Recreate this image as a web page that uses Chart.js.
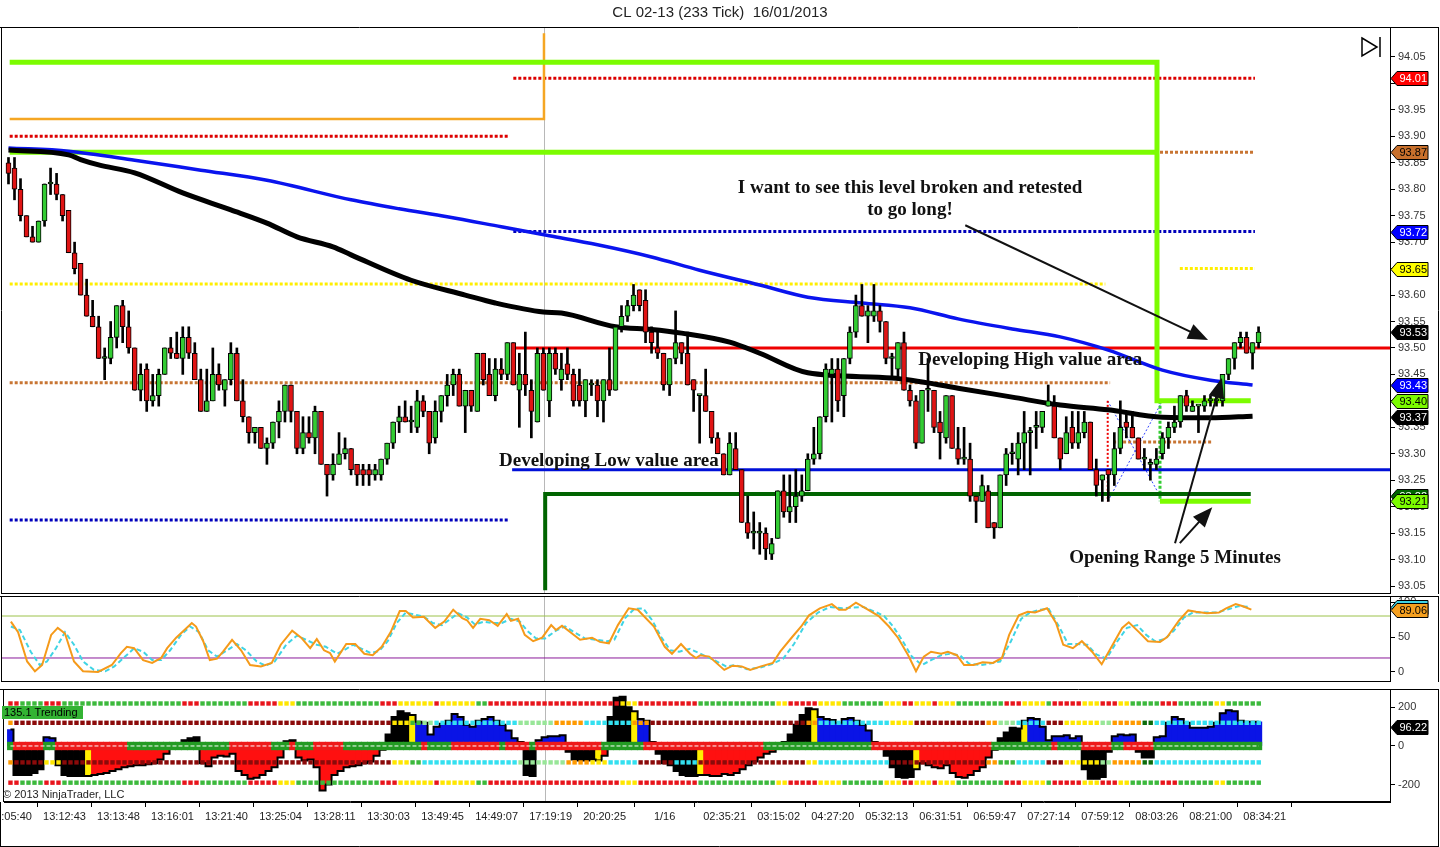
<!DOCTYPE html>
<html>
<head>
<meta charset="utf-8">
<title>CL 02-13 (233 Tick) 16/01/2013</title>
<script src="https://cdn.jsdelivr.net/npm/chart.js@4.4.1/dist/chart.umd.min.js"></script>
<style>
  html, body { margin: 0; padding: 0; background: #fff; }
  #wrap { position: relative; width: 1440px; height: 847px; overflow: hidden; }
  #wrap canvas { position: absolute; left: 0; }
</style>
</head>
<body>
<div id="wrap">
  <canvas id="price" width="1440" height="594" style="top:0px"></canvas>
  <canvas id="stoch" width="1440" height="86" style="top:596px"></canvas>
  <canvas id="trend" width="1440" height="162" style="top:685px"></canvas>
</div>
<script>
// ---------- price bars (233 tick), index = bar number ----------
const opens = [
  93.85,93.84,93.80,93.75,93.71,93.70,93.74,93.81,93.81,93.79,
  93.76,93.68,93.66,93.60,93.56,93.54,93.48,93.48,93.52,93.58,
  93.54,93.50,93.42,93.46,93.40,93.41,93.45,93.50,93.49,93.48,
  93.52,93.49,93.44,93.38,93.40,93.45,93.42,93.44,93.49,93.40,
  93.37,93.34,93.35,93.31,93.32,93.36,93.38,93.43,93.38,93.31,
  93.34,93.33,93.38,93.28,93.26,93.28,93.30,93.31,93.28,93.27,
  93.27,93.26,93.26,93.29,93.32,93.36,93.37,93.36,93.35,93.40,
  93.38,93.33,93.38,93.41,93.43,93.45,93.39,93.42,93.38,93.49,
  93.45,93.41,93.46,93.45,93.51,93.42,93.45,93.42,93.36,93.49,
  93.40,93.49,93.44,93.47,93.45,93.43,93.40,93.43,93.43,93.40,
  93.44,93.42,93.54,93.56,93.58,93.61,93.59,93.53,93.50,93.49,
  93.43,93.48,93.51,93.49,93.44,93.41,93.41,93.38,93.33,93.30,
  93.26,93.31,93.27,93.17,93.15,93.15,93.15,93.11,93.14,93.23,
  93.19,93.20,93.22,93.23,93.29,93.30,93.37,93.45,93.46,93.41,
  93.48,93.53,93.58,93.56,93.56,93.57,93.55,93.48,93.46,93.51,
  93.42,93.40,93.32,93.42,93.42,93.36,93.33,93.41,93.31,93.29,
  93.29,93.22,93.21,93.23,93.17,93.16,93.26,93.30,93.29,93.32,
  93.34,93.35,93.35,93.39,93.39,93.33,93.30,93.35,93.32,93.34,
  93.36,93.27,93.25,93.27,93.26,93.31,93.36,93.35,93.33,93.29,
  93.28,93.28,93.30,93.33,93.35,93.36,93.41,93.38,93.39,93.39,
  93.40,93.40,93.40,93.45,93.48,93.51,93.52,93.49,93.51
];
const highs = [
  93.86,93.86,93.82,93.75,93.73,93.74,93.81,93.84,93.83,93.79,
  93.76,93.70,93.66,93.63,93.59,93.56,93.50,93.55,93.58,93.59,
  93.57,93.50,93.47,93.47,93.45,93.46,93.50,93.52,93.53,93.54,
  93.54,93.51,93.46,93.46,93.50,93.47,93.44,93.51,93.50,93.44,
  93.37,93.35,93.35,93.33,93.36,93.40,93.43,93.43,93.38,93.37,
  93.37,93.39,93.38,93.28,93.30,93.34,93.33,93.31,93.28,93.28,
  93.28,93.28,93.29,93.32,93.36,93.39,93.40,93.39,93.42,93.41,
  93.38,93.40,93.41,93.45,93.46,93.46,93.42,93.42,93.49,93.49,
  93.48,93.48,93.48,93.51,93.51,93.49,93.53,93.44,93.50,93.50,
  93.50,93.50,93.49,93.50,93.46,93.46,93.44,93.44,93.44,93.44,
  93.50,93.54,93.58,93.59,93.62,93.61,93.61,93.54,93.53,93.49,
  93.48,93.57,93.51,93.53,93.44,93.41,93.46,93.38,93.34,93.30,
  93.34,93.34,93.27,93.22,93.19,93.17,93.16,93.14,93.23,93.26,
  93.26,93.27,93.26,93.30,93.35,93.37,93.47,93.48,93.48,93.48,
  93.54,93.60,93.62,93.58,93.62,93.58,93.55,93.49,93.51,93.53,
  93.43,93.41,93.42,93.48,93.42,93.38,93.41,93.41,93.35,93.35,
  93.32,93.22,93.26,93.24,93.17,93.26,93.31,93.32,93.34,93.38,
  93.35,93.38,93.38,93.43,93.41,93.33,93.37,93.38,93.38,93.38,
  93.36,93.29,93.26,93.27,93.34,93.40,93.38,93.38,93.33,93.31,
  93.29,93.31,93.34,93.36,93.39,93.41,93.42,93.40,93.39,93.41,
  93.41,93.41,93.45,93.48,93.51,93.53,93.53,93.51,93.54
];
const lows = [
  93.81,93.78,93.74,93.71,93.70,93.70,93.73,93.79,93.78,93.74,
  93.68,93.64,93.60,93.56,93.54,93.48,93.44,93.47,93.50,93.51,
  93.49,93.42,93.40,93.38,93.39,93.39,93.45,93.48,93.48,93.45,
  93.48,93.44,93.38,93.38,93.40,93.42,93.39,93.43,93.40,93.36,
  93.32,93.32,93.31,93.28,93.31,93.33,93.36,93.36,93.30,93.30,
  93.32,93.30,93.28,93.22,93.25,93.28,93.29,93.26,93.24,93.24,
  93.24,93.25,93.25,93.28,93.31,93.34,93.36,93.34,93.34,93.37,
  93.30,93.32,93.36,93.39,93.41,93.39,93.34,93.38,93.38,93.43,
  93.41,93.40,93.44,93.44,93.43,93.35,93.41,93.33,93.36,93.42,
  93.37,93.45,93.42,93.44,93.39,93.39,93.37,93.41,93.37,93.36,
  93.41,93.42,93.53,93.55,93.57,93.57,93.51,93.49,93.48,93.42,
  93.41,93.47,93.47,93.43,93.38,93.32,93.38,93.32,93.30,93.26,
  93.26,93.27,93.17,93.14,93.12,93.11,93.10,93.10,93.14,93.18,
  93.17,93.17,93.21,93.23,93.28,93.29,93.36,93.36,93.38,93.37,
  93.47,93.52,93.56,93.51,93.55,93.53,93.47,93.44,93.44,93.42,
  93.39,93.31,93.32,93.38,93.34,93.29,93.32,93.31,93.28,93.28,
  93.21,93.17,93.21,93.16,93.14,93.16,93.24,93.28,93.26,93.27,
  93.26,93.31,93.34,93.39,93.33,93.27,93.30,93.31,93.31,93.33,
  93.27,93.22,93.21,93.21,93.24,93.30,93.33,93.33,93.29,93.27,
  93.25,93.27,93.29,93.31,93.34,93.35,93.38,93.38,93.34,93.38,
  93.39,93.39,93.39,93.44,93.46,93.50,93.49,93.46,93.50
];
const closes = [
  93.83,93.80,93.75,93.71,93.70,93.74,93.81,93.81,93.79,93.75,
  93.68,93.65,93.60,93.56,93.54,93.48,93.48,93.52,93.58,93.54,
  93.50,93.42,93.45,93.40,93.41,93.45,93.50,93.49,93.48,93.52,
  93.49,93.44,93.38,93.40,93.45,93.43,93.44,93.49,93.40,93.37,
  93.34,93.35,93.31,93.32,93.36,93.38,93.43,93.38,93.31,93.34,
  93.33,93.38,93.28,93.26,93.28,93.30,93.31,93.27,93.26,93.26,
  93.26,93.27,93.29,93.32,93.36,93.37,93.36,93.36,93.40,93.38,
  93.32,93.38,93.41,93.43,93.45,93.39,93.42,93.39,93.49,93.44,
  93.41,93.46,93.45,93.51,93.43,93.45,93.43,93.38,93.49,93.42,
  93.49,93.46,93.46,93.45,93.40,93.40,93.44,93.43,93.40,93.44,
  93.42,93.54,93.56,93.58,93.60,93.58,93.53,93.51,93.49,93.43,
  93.48,93.51,93.49,93.43,93.42,93.41,93.38,93.33,93.30,93.26,
  93.32,93.27,93.17,93.15,93.15,93.15,93.12,93.13,93.23,93.19,
  93.20,93.22,93.23,93.29,93.30,93.37,93.46,93.46,93.40,93.48,
  93.53,93.58,93.56,93.57,93.57,93.55,93.48,93.48,93.51,93.42,
  93.40,93.32,93.42,93.42,93.35,93.34,93.41,93.31,93.29,93.29,
  93.22,93.21,93.24,93.16,93.16,93.26,93.30,93.30,93.32,93.34,
  93.34,93.35,93.38,93.40,93.33,93.29,93.34,93.32,93.34,93.36,
  93.27,93.24,93.26,93.26,93.31,93.35,93.35,93.33,93.29,93.29,
  93.28,93.29,93.33,93.35,93.36,93.41,93.39,93.39,93.39,93.40,
  93.40,93.40,93.45,93.48,93.51,93.52,93.49,93.51,93.53
];

// x axis labels and the bar they sit on
const tickLabels = ['13:05:40','13:12:43','13:13:48','13:16:01','13:21:40','13:25:04','13:28:11','13:30:03',
  '13:49:45','14:49:07','17:19:19','20:20:25','1/16','02:35:21','03:15:02','04:27:20','05:32:13',
  '06:31:51','06:59:47','07:27:14','07:59:12','08:03:26','08:21:00','08:34:21'];
const tickBars = [0,9,18,27,36,45,54,63,72,81,90,99,109,119,128,137,146,155,164,173,182,191,200,209];
const sessionBar = 89.1;

// moving averages (bar, price)
const blueMaBars = [0,10,21,32,43,57,65,73,82,90,98,107,115,125,133,142,150,158,167,175,183,192,200,207];
const blueMa = [93.878,93.872,93.855,93.836,93.817,93.780,93.763,93.748,93.729,93.712,93.695,93.672,
  93.647,93.619,93.596,93.585,93.576,93.555,93.536,93.521,93.496,93.458,93.439,93.430];
const blackMaBars = [0,10,12,15,21,29,37,43,48,54,57,67,76,81,89,92,101,107,112,120,125,133,147,158,167,175,183,192,200,207];
const blackMa = [93.874,93.865,93.856,93.846,93.831,93.793,93.761,93.736,93.710,93.691,93.676,93.628,93.600,
  93.585,93.568,93.566,93.540,93.535,93.528,93.511,93.490,93.453,93.443,93.424,93.407,93.392,93.383,93.369,93.368,93.371];

// horizontal levels, as [bar, price] paths
const greenHi = [[0.2,94.04],[191.1,94.04],[191.1,93.40],[206.7,93.40]];
const greenLo = [[0.2,93.87],[191.1,93.87]];
const orLow = [[191.6,93.21],[206.7,93.21]];
const darkGreen = [[89.3,93.042],[89.3,93.224],[206.7,93.224]];
const orangePath = [[0.2,93.933],[89.1,93.933],[89.1,94.095]];
const redSolid = [[84.3,93.50],[229.9,93.50]];
const blueSolid = [[83.8,93.27],[229.9,93.27]];
const redDots = [[[0.2,93.90],[83.4,93.90]], [[84.0,94.01],[207.4,94.01]]];
const blueDots = [[[0.2,93.175],[83.4,93.175]], [[84.0,93.72],[207.4,93.72]]];
const brownDots = [[[0.2,93.434],[183.3,93.434]], [[191.6,93.87],[207.4,93.87]], [[183.8,93.322],[200.3,93.322]]];
const yellowDots = [[[0.2,93.621],[182.5,93.621]], [[194.9,93.65],[207.4,93.65]]];
const orRedVert = [[182.9,93.40],[182.9,93.21]];
const orGreenVert = [[191.6,93.40],[191.6,93.21]];
const orBlueA = [[182.9,93.21],[192.0,93.40]];
const orBlueB = [[182.9,93.40],[191.6,93.22]];

// price tags on the right axis
const priceTags = [94.01, 93.87, 93.72, 93.65, 93.53, 93.43, 93.40, 93.37, 93.22, 93.21];

// text notes [text, bar, price] and arrows [fromBar, fromPrice, toBar, toPrice]
const notes = [
  ['I want to see this level broken and retested', 150.0, 93.802],
  ['to go long!', 150.0, 93.761],
  ['Developing High value area', 170.0, 93.477],
  ['Developing Low value area', 99.9, 93.286],
  ['Opening Range 5 Minutes', 194.1, 93.103]
];
const arrows = [
  [159.2, 93.732, 199.6, 93.515],
  [194.1, 93.131, 201.9, 93.443],
  [194.9, 93.131, 200.3, 93.199]
];

// ---------- stochastics ----------
const kBars = [0.4,1.6,3.1,4.4,5.6,7.1,8.2,9.4,10.9,12.4,14.9,17.2,18.7,19.7,20.9,22.4,23.9,25.4,26.4,27.9,
  29.9,30.5,31.2,32.4,33.5,34.7,35.7,37.2,38.7,40.2,42.0,43.8,45.3,47.2,48.7,50.2,51.3,52.5,53.5,54.3,
  56.2,57.7,59.2,60.6,62.1,63.6,65.1,66.1,67.3,69.1,71.0,72.5,74.0,75.5,76.3,77.3,78.5,80.0,81.4,82.9,
  83.6,84.8,85.9,87.3,88.8,90.3,91.1,92.1,95.1,97.1,98.4,99.9,101.4,103.2,104.7,107.4,109.2,110.4,111.9,113.4,
  114.4,115.1,116.6,119.1,120.5,122.0,123.4,125.2,127.2,128.4,130.4,131.9,133.2,135.0,137.0,138.2,139.3,141.0,143.0,144.8,
  146.5,148.0,149.7,151.0,152.3,153.5,155.2,156.3,157.8,159.0,160.6,162.1,163.8,165.3,166.5,168.1,169.6,170.8,172.8,174.3,
  175.5,177.1,178.6,180.3,181.9,183.4,185.3,186.4,188.1,189.6,191.6,192.8,194.8,196.3,197.6,199.4,201.4,202.6,204.2,205.4,206.8];
const kVals = [72,57,15,1,10,53,63,55,15,1,0,10,27,36,34,17,13,20,34,49,
  65,70,65,44,17,19,29,46,31,10,8,13,39,59,49,34,47,31,27,15,
  40,40,26,24,36,57,87,87,78,79,63,72,89,77,74,63,76,74,66,83,
  73,76,53,44,49,67,60,66,46,49,43,41,67,91,89,65,36,26,40,26,
  20,24,22,3,9,8,3,8,13,29,50,65,81,91,97,89,89,99,89,80,
  65,49,24,1,22,29,26,29,24,10,10,14,13,20,53,81,86,85,91,70,
  39,34,44,29,11,34,63,71,57,44,43,50,74,88,86,84,85,91,97,94,89.06];
const dBars = [0.4,1.9,3.7,5.2,6.4,7.9,9.4,10.9,12.4,14.2,16.1,17.6,19.4,20.9,22.4,23.9,25.4,26.9,28.7,30.2,
  31.7,33.2,34.7,36.0,38.0,39.5,41.3,42.8,44.3,46.2,48.0,49.5,51.3,52.8,54.7,56.2,57.3,58.8,60.3,61.7,
  63.1,64.6,66.1,67.6,69.1,70.6,72.1,73.6,74.8,76.3,77.6,79.1,80.6,82.1,83.6,85.1,86.3,87.8,89.3,91.1,
  92.6,94.1,95.9,97.8,99.6,100.8,102.6,104.1,105.6,107.1,108.6,110.1,111.6,113.4,114.9,117.4,119.4,120.9,122.9,124.9,
  126.9,128.9,130.7,132.7,134.7,136.7,138.7,140.2,142.2,144.2,145.7,147.2,148.8,150.3,152.0,153.5,155.2,156.7,158.3,159.8,
  161.8,163.3,165.0,166.8,168.5,170.0,171.6,173.1,174.8,176.3,177.9,179.5,181.0,182.7,184.1,186.1,187.8,189.3,190.8,192.4,
  193.9,195.6,197.1,199.1,201.1,203.1,204.6,206.6];
const dVals = [65,60,29,10,15,34,57,39,15,3,1,8,22,34,29,17,17,31,53,65,
  57,31,22,29,40,31,15,9,15,39,52,46,39,36,26,33,39,33,27,30,
  44,70,85,82,79,70,67,76,84,78,68,72,70,70,76,72,59,48,48,59,
  65,57,48,46,44,46,77,90,91,74,50,31,29,33,27,17,8,10,4,6,
  11,19,40,70,85,93,91,92,93,86,80,65,44,22,10,17,24,26,24,12,
  10,12,15,44,76,85,89,90,65,40,40,39,25,19,39,63,67,53,44,47,
  59,78,85,85,85,90,94,93];
const stochLevels = [80, 20];
const stochTicks = [0, 50, 100];
const stochTags = [93, 89.06];

// ---------- trend panel ----------
const trendVals = [
  85,-150,-150,-150,-140,-120,45,40,-100,-150,
  -155,-155,-155,-155,-150,-145,-140,-130,-120,-110,
  -105,-100,-100,-95,-90,-70,-40,10,15,30,
  40,45,-90,-105,-60,-50,-55,-40,-130,-150,
  -170,-165,-150,-130,-110,-60,25,30,-60,-75,
  -70,-110,-230,-200,-150,-130,-110,-105,-100,-90,
  -80,-50,-20,60,150,180,170,160,125,120,
  60,100,115,130,165,150,110,100,130,140,
  150,130,110,80,40,20,-150,-155,30,45,
  50,50,55,-30,-70,-75,-75,-70,-75,-50,
  150,250,255,200,180,140,130,20,-40,-90,
  -100,-130,-150,-155,-155,-150,-150,-155,-155,-145,
  -150,-140,-120,-100,-80,-60,-40,-30,-10,20,
  60,110,160,195,190,150,140,135,120,140,
  145,130,110,80,20,-10,-50,-110,-160,-165,
  -160,-120,-90,-100,-110,-115,-100,-140,-160,-165,
  -150,-130,-110,-60,-20,40,70,95,90,130,
  145,140,100,30,50,50,55,40,50,-120,
  -170,-170,-160,-30,50,60,55,60,-30,-60,
  -60,45,50,120,150,140,120,95,95,95,
  100,120,170,185,180,130,125,125,125
];
const histRuns = [[0,0,'B'],[1,5,'K'],[6,7,'B'],[8,12,'K'],[13,13,'Y'],[14,26,'R'],[27,31,'K'],[32,45,'R'],
  [46,47,'K'],[48,62,'R'],[63,66,'K'],[67,67,'Y'],[68,85,'B'],[86,87,'K'],[88,92,'B'],[93,97,'K'],[98,98,'Y'],
  [99,99,'R'],[100,103,'K'],[104,104,'Y'],[105,107,'B'],[108,114,'K'],[115,115,'Y'],[116,128,'R'],[129,133,'K'],
  [134,134,'Y'],[135,144,'B'],[145,145,'R'],[146,150,'K'],[151,151,'Y'],[152,164,'R'],[165,168,'K'],[169,169,'Y'],
  [170,178,'B'],[179,183,'K'],[184,187,'B'],[188,190,'K'],[191,208,'B']];
const bandRuns = [[0,0,'g'],[1,5,'r'],[6,7,'g'],[8,19,'r'],[20,36,'g'],[37,43,'r'],[44,46,'g'],[47,47,'r'],
  [48,50,'g'],[51,55,'r'],[56,68,'g'],[69,69,'r'],[70,73,'g'],[74,81,'r'],[82,82,'g'],[83,86,'r'],[87,87,'g'],
  [88,98,'r'],[99,105,'g'],[106,125,'r'],[126,143,'g'],[144,163,'r'],[164,173,'g'],[174,174,'r'],[175,178,'g'],
  [179,183,'r'],[184,185,'g'],[186,190,'r'],[191,208,'g']];
const outerRuns = [[0,1,'r'],[2,5,'g'],[6,8,'r'],[9,28,'g'],[29,31,'r'],[32,39,'g'],[40,44,'r'],[45,47,'y'],
  [48,61,'g'],[62,64,'r'],[65,70,'y'],[71,71,'r'],[72,77,'y'],[78,79,'g'],[80,101,'r'],[102,104,'y'],[105,114,'r'],
  [115,127,'g'],[128,129,'y'],[130,134,'r'],[135,138,'y'],[139,145,'g'],[146,148,'y'],[149,150,'r'],[151,153,'y'],
  [154,154,'r'],[155,157,'y'],[158,165,'g'],[166,168,'r'],[169,172,'y'],[173,173,'g'],[174,178,'r'],[179,181,'y'],
  [182,184,'r'],[185,186,'y'],[187,191,'g'],[192,194,'r'],[195,200,'g'],[201,202,'y'],[203,208,'g']];
const upperRuns = [[0,0,'o'],[1,63,'m'],[64,66,'y'],[67,68,'g'],[69,70,'l'],[71,84,'c'],[85,90,'l'],[91,95,'o'],
  [96,103,'c'],[104,106,'o'],[107,132,'m'],[133,134,'o'],[135,146,'c'],[147,150,'y'],[151,162,'m'],[163,164,'o'],
  [165,167,'l'],[168,172,'c'],[173,175,'m'],[176,181,'y'],[182,183,'l'],[184,188,'o'],[189,190,'d'],[191,208,'c']];
const lowerRuns = [[0,0,'o'],[1,5,'m'],[6,8,'y'],[9,63,'m'],[64,66,'y'],[67,68,'g'],[69,84,'c'],[85,92,'l'],
  [93,96,'o'],[97,99,'y'],[100,104,'c'],[105,110,'m'],[111,114,'c'],[115,132,'m'],[133,134,'y'],[135,146,'c'],
  [147,162,'m'],[163,164,'o'],[165,167,'g'],[168,172,'c'],[173,175,'m'],[176,181,'y'],[182,183,'l'],[184,188,'o'],
  [189,190,'d'],[191,208,'c']];
const rowLevels = [220, 120, -85, -190];
const trendTicks = [-200, 0, 200];
const trendTags = [96.22];

// ---------- look ----------
const FONT = '"Liberation Sans", Arial, sans-serif';
Chart.defaults.font.family = FONT;
Chart.defaults.animation = false;
const X_MIN = -1.08, X_MAX = 229.87;
const UP = '#33cc33', DOWN = '#e01414';
const PAL = {r:'#e8141b', g:'#3cb93c', y:'#ffe600', m:'#8b0a0a', c:'#33e0f0', o:'#ff9a00', l:'#98e698', d:'#0b6b0b',
  B:'#0a14e6', R:'#ff1010', K:'#000000', Y:'#ffee00'};
const BAND = {g:'#239b23', r:'#ee1a1a'};
const TAG_STYLE = [['#ff0000','#fff'],['#c8702c','#000'],['#0000ff','#fff'],['#ffff00','#000'],['#000','#fff'],
  ['#0000ff','#fff'],['#7cfc00','#000'],['#000','#fff'],['#006400','#fff'],['#7cfc00','#000']];

const bars = closes.map((c, i) => i);
const pts = path => path.map(p => ({x: p[0], y: p[1]}));
function expand(runs) {
  const out = [];
  runs.forEach(([a, b, k]) => { for (let i = a; i <= b; i++) out[i] = PAL[k] || k; });
  return out;
}
function lineSet(path, color, width, dash, order) {
  return {type: 'line', data: pts(path), borderColor: color, borderWidth: width, borderDash: dash || [],
    pointRadius: 0, order: order, borderCapStyle: 'butt'};
}

function xAxis(show) {
  return {
    type: 'linear', min: X_MIN, max: X_MAX, display: show, offset: false,
    grid: {display: show, drawOnChartArea: false, drawTicks: true, tickLength: 5, color: '#000'},
    border: {display: show, color: '#000'},
    afterBuildTicks: s => { s.ticks = tickBars.map(v => ({value: v})); },
    afterFit: s => { s.paddingLeft = 0; s.paddingRight = 0; if (show) s.height = 45; },
    ticks: {autoSkip: false, maxRotation: 0, padding: 3, color: '#222', font: {size: 11},
      callback: (v, i) => tickLabels[i]}
  };
}
function yAxis(min, max, step, fmt, list) {
  return {
    position: 'right', min: min, max: max,
    afterBuildTicks: s => { if (list) s.ticks = list.map(v => ({value: v})); },
    afterFit: s => { s.width = 48; s.paddingTop = 0; s.paddingBottom = 0; },
    grid: {drawOnChartArea: false, drawTicks: true, tickLength: 5, color: '#000'},
    border: {display: true, color: '#000'},
    ticks: {stepSize: step, includeBounds: false, padding: 3, color: '#333', font: {size: 11}, callback: fmt}
  };
}

// frame, session line and value tags
const framePlugin = {
  id: 'frame',
  beforeDatasetsDraw(chart) {
    const {ctx, chartArea: a} = chart;
    const x = Math.round(chart.scales.x.getPixelForValue(sessionBar)) + 0.5;
    ctx.save();
    ctx.strokeStyle = '#b8b8b8'; ctx.lineWidth = 1;
    ctx.beginPath(); ctx.moveTo(x, a.top); ctx.lineTo(x, a.bottom); ctx.stroke();
    ctx.restore();
  },
  afterDraw(chart, args, o) {
    const {ctx, chartArea: a, width, height} = chart;
    ctx.save();
    ctx.strokeStyle = '#000'; ctx.lineWidth = 1;
    ctx.beginPath();
    ctx.moveTo(0, a.top + 0.5); ctx.lineTo(width - 2, a.top + 0.5);
    ctx.moveTo(a.left - 0.5, a.top); ctx.lineTo(a.left - 0.5, a.bottom);
    ctx.moveTo(a.left, a.bottom - 0.5); ctx.lineTo(a.right, a.bottom - 0.5);
    ctx.moveTo(width - 1.5, a.top); ctx.lineTo(width - 1.5, height);
    if (o.bottomLine) { ctx.moveTo(0, height - 0.5); ctx.lineTo(width - 1, height - 0.5);
      ctx.moveTo(0.5, a.bottom); ctx.lineTo(0.5, height); }
    ctx.stroke();
    // tags
    const y = chart.scales.y, x0 = a.right;
    ctx.font = '11px ' + FONT; ctx.textBaseline = 'middle'; ctx.textAlign = 'right';
    (o.tags || []).forEach((v, i) => {
      const py = Math.round(y.getPixelForValue(v)) + 0.5, st = o.styles[i];
      ctx.beginPath();
      ctx.moveTo(x0 + 1, py); ctx.lineTo(x0 + 7, py - 7); ctx.lineTo(x0 + 38, py - 7);
      ctx.lineTo(x0 + 38, py + 7); ctx.lineTo(x0 + 7, py + 7); ctx.closePath();
      ctx.fillStyle = st[0]; ctx.fill();
      ctx.strokeStyle = '#000'; ctx.stroke();
      ctx.fillStyle = st[1]; ctx.fillText(v.toFixed(2), x0 + 37, py + 0.5);
    });
    ctx.restore();
  }
};

function arrow(ctx, x1, y1, x2, y2) {
  const ang = Math.atan2(y2 - y1, x2 - x1), L = 20, W = 8;
  const c = Math.cos(ang), s = Math.sin(ang);
  ctx.beginPath(); ctx.moveTo(x1, y1); ctx.lineTo(x2 - L * 0.7 * c, y2 - L * 0.7 * s); ctx.stroke();
  ctx.beginPath(); ctx.moveTo(x2, y2);
  ctx.lineTo(x2 - L * c + W * s, y2 - L * s - W * c);
  ctx.lineTo(x2 - L * c - W * s, y2 - L * s + W * c);
  ctx.closePath(); ctx.fill();
}
const notesPlugin = {
  id: 'notes',
  afterDatasetsDraw(chart) {
    const {ctx} = chart, xs = chart.scales.x, ys = chart.scales.y;
    ctx.save();
    ctx.fillStyle = '#111'; ctx.strokeStyle = '#111'; ctx.lineWidth = 2;
    arrows.forEach(a => arrow(ctx, xs.getPixelForValue(a[0]), ys.getPixelForValue(a[1]),
      xs.getPixelForValue(a[2]), ys.getPixelForValue(a[3])));
    ctx.font = 'bold 19px "Liberation Serif", "Times New Roman", serif';
    ctx.textAlign = 'center'; ctx.textBaseline = 'middle';
    notes.forEach(n => ctx.fillText(n[0], xs.getPixelForValue(n[1]), ys.getPixelForValue(n[2])));
    // go-to-end button
    ctx.lineWidth = 1.5; ctx.strokeStyle = '#000';
    ctx.beginPath(); ctx.moveTo(1362, 38); ctx.lineTo(1377, 47); ctx.lineTo(1362, 56); ctx.closePath(); ctx.stroke();
    ctx.beginPath(); ctx.moveTo(1380, 37); ctx.lineTo(1380, 57); ctx.stroke();
    ctx.restore();
  }
};
const trendTextPlugin = {
  id: 'trendText',
  afterDraw(chart) {
    const {ctx} = chart;
    ctx.save();
    ctx.fillStyle = '#33b333'; ctx.fillRect(2, 21, 81, 13);
    ctx.fillStyle = '#000'; ctx.font = '11px ' + FONT; ctx.textBaseline = 'middle'; ctx.textAlign = 'left';
    ctx.fillText('135.1 Trending', 4, 28);
    ctx.fillStyle = '#222';
    ctx.fillText('\u00a9 2013 NinjaTrader, LLC', 3, 110);
    ctx.restore();
  }
};

const base = {
  responsive: false, events: [],
  layout: {padding: {left: 2, right: 2, top: 0, bottom: 0}},
  plugins: {legend: {display: false}, tooltip: {enabled: false}}
};

// ---------- price panel ----------
const priceSets = [
  {type: 'bar', data: bars.map(i => ({x: i, y: [opens[i], closes[i]]})), grouped: false, barThickness: 5,
    minBarLength: 2, borderSkipped: false, borderWidth: 1, borderColor: '#000',
    backgroundColor: bars.map(i => closes[i] >= opens[i] ? UP : DOWN), order: 1},
  {type: 'bar', data: bars.map(i => ({x: i, y: [lows[i], highs[i]]})), grouped: false, barThickness: 2,
    backgroundColor: '#000', borderWidth: 0, order: 2},
  {type: 'line', data: blackMaBars.map((b, i) => ({x: b, y: blackMa[i]})), borderColor: '#000', borderWidth: 5,
    pointRadius: 0, cubicInterpolationMode: 'monotone', order: 3},
  {type: 'line', data: blueMaBars.map((b, i) => ({x: b, y: blueMa[i]})), borderColor: '#0a14ee', borderWidth: 3.5,
    pointRadius: 0, cubicInterpolationMode: 'monotone', order: 3},
  lineSet(greenHi, '#7cfc00', 5, null, 4),
  lineSet(greenLo, '#7cfc00', 5, null, 4),
  lineSet(orLow, '#7cfc00', 5, null, 4),
  lineSet(darkGreen, '#006400', 4, null, 4),
  lineSet(orangePath, '#f5a623', 2.5, null, 4),
  lineSet(redSolid, '#ee0000', 3, null, 4),
  lineSet(blueSolid, '#0010d8', 3, null, 4),
  lineSet(orRedVert, '#ee0000', 2, [2, 2], 4),
  lineSet(orGreenVert, '#33cc33', 3, [3, 2], 4),
  lineSet(orBlueA, '#3344ff', 1, [2, 2], 4),
  lineSet(orBlueB, '#3344ff', 1, [2, 2], 4)
];
redDots.forEach(p => priceSets.push(lineSet(p, '#dd0000', 3, [3, 2], 5)));
blueDots.forEach(p => priceSets.push(lineSet(p, '#0000bb', 3, [3, 2], 5)));
brownDots.forEach(p => priceSets.push(lineSet(p, '#c87533', 3, [3, 2], 5)));
yellowDots.forEach(p => priceSets.push(lineSet(p, '#ffee00', 3, [3, 2], 5)));

new Chart(document.getElementById('price'), {
  type: 'bar',
  data: {datasets: priceSets},
  options: Object.assign({}, base, {
    plugins: Object.assign({}, base.plugins, {
      title: {display: true, text: 'CL 02-13 (233 Tick)  16/01/2013', color: '#222',
        font: {size: 15, weight: 'normal'}, padding: {top: 4, bottom: 5}},
      frame: {tags: priceTags, styles: TAG_STYLE}
    }),
    scales: {
      x: xAxis(false),
      y: yAxis(93.0349, 94.1067, 0.05, v => v > 94.08 ? null : v.toFixed(2))
    }
  }),
  plugins: [framePlugin, notesPlugin]
});

// ---------- stochastics panel ----------
new Chart(document.getElementById('stoch'), {
  type: 'line',
  data: {datasets: [
    {data: kBars.map((b, i) => ({x: b, y: kVals[i]})), borderColor: '#f59a1a', borderWidth: 2, pointRadius: 0, order: 1},
    {data: dBars.map((b, i) => ({x: b, y: dVals[i]})), borderColor: '#3fd4e4', borderWidth: 2, borderDash: [5, 3],
      pointRadius: 0, order: 2},
    lineSet([[X_MIN, stochLevels[0]], [X_MAX, stochLevels[0]]], '#9cc24a', 1, null, 3),
    lineSet([[X_MIN, stochLevels[1]], [X_MAX, stochLevels[1]]], '#8a1a9a', 1, null, 3)
  ]},
  options: Object.assign({}, base, {
    plugins: Object.assign({}, base.plugins, {
      frame: {tags: stochTags, styles: [['#3fd4e4', '#000'], ['#f5a020', '#000']]}
    }),
    scales: {x: xAxis(false), y: yAxis(-14.3, 108.6, 50, v => String(v), stochTicks)}
  }),
  plugins: [framePlugin]
});

// ---------- trend panel ----------
const trendSets = [
  {type: 'bar', data: bars.map(i => ({x: i, y: trendVals[i]})), grouped: false, barThickness: 6.2,
    backgroundColor: expand(histRuns), borderWidth: 0, order: 5},
  {type: 'line', data: bars.map(i => ({x: i, y: trendVals[i]})), stepped: 'middle', borderColor: '#000',
    borderWidth: 2, pointRadius: 0, order: 4},
  {type: 'bar', data: bars.map(i => ({x: i, y: [-20, 20]})), grouped: false, barThickness: 6.2,
    backgroundColor: expand(bandRuns.map(r => [r[0], r[1], BAND[r[2]]])), borderWidth: 0, order: 3},
  lineSet([[0, 0], [bars.length - 1, 0]], '#ffffff', 1, [4, 2], 2)
];
[outerRuns, upperRuns, lowerRuns, outerRuns].forEach((runs, r) => {
  trendSets.push({type: 'line', showLine: false, data: bars.map(i => ({x: i, y: rowLevels[r]})),
    pointStyle: 'rect', pointRadius: 3.1, pointBorderWidth: 0, pointBackgroundColor: expand(runs), order: 1});
});

new Chart(document.getElementById('trend'), {
  type: 'bar',
  data: {datasets: trendSets},
  options: Object.assign({}, base, {
    plugins: Object.assign({}, base.plugins, {
      frame: {tags: trendTags, styles: [['#000', '#fff']], bottomLine: true}
    }),
    scales: {x: xAxis(true), y: yAxis(-290, 295, 200, v => String(v), trendTicks)}
  }),
  plugins: [framePlugin, trendTextPlugin]
});
</script>
</body>
</html>
